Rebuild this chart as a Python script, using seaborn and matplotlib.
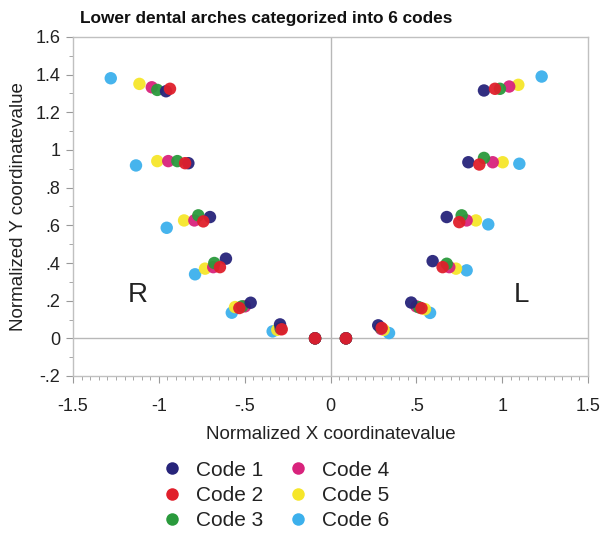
import matplotlib
matplotlib.use("Agg")
import matplotlib.pyplot as plt
import seaborn as sns
import pandas as pd
from matplotlib.ticker import MultipleLocator, FixedLocator
from matplotlib.lines import Line2D

codes = ["Code 1", "Code 2", "Code 3", "Code 4", "Code 5", "Code 6"]
colors = ["#27247a", "#e01f2b", "#2a9a3c", "#d8237c", "#f6e62a", "#3cb0ec"]

code1_x = [-0.958, -0.828, -0.702, -0.609, -0.465, -0.294, -0.09, 0.09, 0.278, 0.47, 0.595, 0.677, 0.803, 0.894]
code1_y = [1.312, 0.93, 0.644, 0.423, 0.189, 0.074, 0.0, 0.0, 0.069, 0.19, 0.41, 0.644, 0.935, 1.316]
code2_x = [-0.935, -0.847, -0.741, -0.644, -0.531, -0.284, -0.09, 0.09, 0.298, 0.53, 0.653, 0.75, 0.867, 0.958]
code2_y = [1.325, 0.93, 0.621, 0.378, 0.161, 0.048, 0.0, 0.0, 0.055, 0.16, 0.378, 0.617, 0.923, 1.325]
code3_x = [-1.009, -0.892, -0.77, -0.677, -0.515, -0.29, -0.09, 0.09, 0.29, 0.515, 0.677, 0.764, 0.894, 0.987]
code3_y = [1.319, 0.941, 0.653, 0.4, 0.17, 0.055, 0.0, 0.0, 0.058, 0.165, 0.396, 0.653, 0.958, 1.325]
code4_x = [-1.041, -0.945, -0.793, -0.683, -0.498, -0.29, -0.09, 0.09, 0.295, 0.5, 0.692, 0.793, 0.945, 1.041]
code4_y = [1.333, 0.941, 0.626, 0.378, 0.17, 0.05, 0.0, 0.0, 0.05, 0.17, 0.378, 0.626, 0.935, 1.337]
code5_x = [-1.113, -1.009, -0.853, -0.731, -0.556, -0.31, -0.09, 0.09, 0.31, 0.55, 0.731, 0.847, 1.003, 1.094]
code5_y = [1.351, 0.941, 0.626, 0.37, 0.166, 0.045, 0.0, 0.0, 0.045, 0.155, 0.37, 0.626, 0.935, 1.346]
code6_x = [-1.28, -1.133, -0.954, -0.789, -0.575, -0.337, -0.09, 0.09, 0.341, 0.58, 0.793, 0.919, 1.10, 1.23]
code6_y = [1.381, 0.918, 0.587, 0.34, 0.136, 0.037, 0.0, 0.0, 0.028, 0.135, 0.361, 0.605, 0.927, 1.39]

xs = [code1_x, code2_x, code3_x, code4_x, code5_x, code6_x]
ys = [code1_y, code2_y, code3_y, code4_y, code5_y, code6_y]

x_ticks = [-1.5, -1, -0.5, 0, 0.5, 1, 1.5]
x_ticklabels = ["-1.5", "-1", "-.5", "0", ".5", "1", "1.5"]
y_ticks = [-0.2, 0, 0.2, 0.4, 0.6, 0.8, 1.0, 1.2, 1.4, 1.6]
y_ticklabels = ["-.2", "0", ".2", ".4", ".6", ".8", "1", "1.2", "1.4", "1.6"]

# drawing order (later on top): cyan, yellow, magenta, green, navy, red
draw_order = [5, 4, 3, 2, 0, 1]
rows = []
for i in draw_order:
    for a, b in zip(xs[i], ys[i]):
        rows.append({"x": a, "y": b, "Code": codes[i]})
df = pd.DataFrame(rows)

sns.set_style("white")
plt.rcParams["font.family"] = ["Liberation Sans", "DejaVu Sans"]

fig = plt.figure(figsize=(6.02, 5.41), dpi=100)
ax = fig.add_axes([73/602, 1 - 376/541, (588 - 73)/602, (376 - 37)/541])

ax.axvline(0, color="#b8b8b8", lw=1.0, zorder=0)
ax.axhline(0, color="#b8b8b8", lw=1.0, zorder=0)

sns.scatterplot(data=df, x="x", y="y", hue="Code", hue_order=codes,
                palette=colors, s=80, edgecolor="none", linewidth=0,
                ax=ax, legend=False, alpha=0.95)

ax.set_xlim(-1.5, 1.5)
ax.set_ylim(-0.2, 1.6)
ax.xaxis.set_major_locator(FixedLocator(x_ticks))
ax.set_xticklabels(x_ticklabels)
ax.yaxis.set_major_locator(FixedLocator(y_ticks))
ax.set_yticklabels(y_ticklabels)
ax.xaxis.set_minor_locator(MultipleLocator(0.05))
ax.yaxis.set_minor_locator(MultipleLocator(0.1))
ax.tick_params(axis="both", which="major", direction="out", length=5, width=0.8,
               color="#999999", labelsize=13, labelcolor="#222222")
ax.tick_params(axis="x", which="major", pad=11)
ax.tick_params(axis="y", which="major", pad=4)
ax.tick_params(axis="both", which="minor", direction="out", length=3, width=0.6,
               color="#999999")
ax.tick_params(bottom=True, left=True, which="both")
for sp in ax.spines.values():
    sp.set_color("#c0c0c0")
    sp.set_linewidth(1.0)

ax.set_xlabel("Normalized X coordinatevalue", fontsize=13.5, color="#222222", labelpad=8)
ax.set_ylabel("Normalized Y coordinatevalue", fontsize=13.5, color="#222222", labelpad=6)

ax.text(-1.12, 0.23, "R", fontsize=20, ha="center", va="center", color="#222222")
ax.text(1.115, 0.23, "L", fontsize=20, ha="center", va="center", color="#222222")

fig.text(80/602, 1 - 18/541, "Lower dental arches categorized into 6 codes",
         fontsize=12.4, fontweight="bold", ha="left", va="center", color="#111111")

handles = [Line2D([0], [0], marker="o", color="none", markerfacecolor=col,
                  markeredgecolor="none", markersize=9) for col in colors]
fig.legend(handles, codes, loc="upper left", bbox_to_anchor=(141/602, 1 - 442/541),
           ncol=2, frameon=False, fontsize=15, handletextpad=0.55,
           columnspacing=1.08, labelspacing=0.3, handlelength=1.2,
           labelcolor="#222222")

fig.savefig("out.png", dpi=100)
